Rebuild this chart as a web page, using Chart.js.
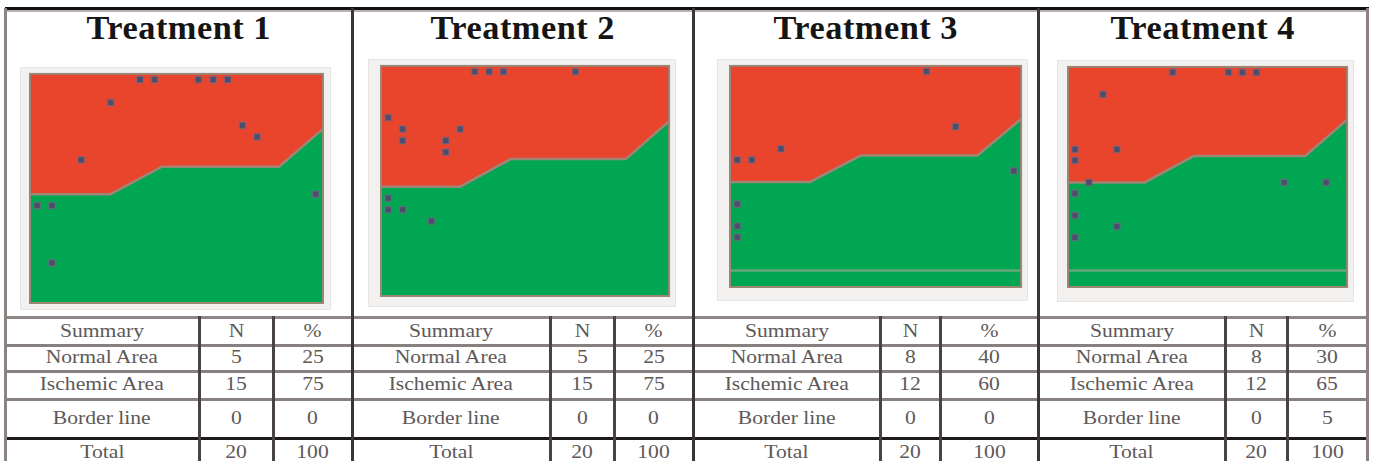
<!DOCTYPE html>
<html>
<head>
<meta charset="utf-8">
<script src="https://cdn.jsdelivr.net/npm/chart.js@4/dist/chart.umd.min.js"></script>
<style>
  body { margin:0; width:1375px; height:461px; overflow:hidden; background:#fff; position:relative; font-family:'Liberation Serif', serif; }
  .ln { position:absolute; }
  .frame { position:absolute; background:#f3f1f0; border:1px solid #e8e4e2; box-sizing:border-box; }
  .title { position:absolute; top:8px; font-weight:bold; font-size:33px; color:#151515; text-align:center; line-height:40px; }
  .title span { display:inline-block; transform:scaleX(1.04); letter-spacing:0.5px; }
  .cell { position:absolute; text-align:center; font-size:18px; color:#5e5959; line-height:20px; }
  .cell span { display:inline-block; transform:scaleX(1.2); }
</style>
</head>
<body>
<script>
// ---- data ----
var treatments = ['Treatment 1', 'Treatment 2', 'Treatment 3', 'Treatment 4'];

// boundary between normal (green) and ischemic (red) zones
var boundaryX = [0.5, 6, 9.5, 17.5, 20.5];
var boundaryY = [10, 10, 12.4, 12.4, 15.7];

// horizontal reference line (only panels 3 and 4)
var refLineY = [null, null, 2, 2];

var pointsX1 = [8, 9, 12, 13, 14, 6, 15, 16, 4, 1, 2, 2, 20];
var pointsY1 = [20, 20, 20, 20, 20, 18, 16, 15, 13, 9, 9, 4, 10];
var pointsX2 = [7, 8, 9, 14, 1, 2, 2, 5, 5, 6, 1, 1, 2, 4];
var pointsY2 = [20, 20, 20, 20, 16, 15, 14, 14, 13, 15, 9, 8, 8, 7];
var pointsX3 = [14, 16, 4, 1, 2, 20, 1, 1, 1];
var pointsY3 = [20, 15, 13, 12, 12, 11, 8, 6, 5];
var pointsX4 = [8, 12, 13, 14, 3, 1, 4, 1, 2, 1, 1, 4, 1, 16, 19];
var pointsY4 = [20, 20, 20, 20, 18, 13, 13, 12, 10, 9, 7, 6, 5, 10, 10];

var summaryRows = ['Summary', 'Normal Area', 'Ischemic Area', 'Border line', 'Total'];
var nNormal   = [5, 5, 8, 8];
var nIschemic = [15, 15, 12, 12];
var nBorder   = [0, 0, 0, 0];
var nTotal    = [20, 20, 20, 20];
var pctNormal   = [25, 25, 40, 30];
var pctIschemic = [75, 75, 60, 65];
var pctBorder   = [0, 0, 0, 5];
var pctTotal    = [100, 100, 100, 100];

// ---- layout ----
var panelEdges = [5, 352, 693, 1038, 1367];
var colLines = [[199, 273], [550, 614], [880, 940], [1225, 1287]];
var rowLines = [316, 344, 370, 398];
var rowCenters = [331, 357, 384, 418, 452];
var frames = [
  { l: 20,   t: 67, w: 311, h: 243, pl: 10, pt: 4, pr: 8, pb: 7 },
  { l: 368,  t: 59, w: 308, h: 248, pl: 13, pt: 4, pr: 4, pb: 11 },
  { l: 717,  t: 59, w: 311, h: 242, pl: 13, pt: 4, pr: 5, pb: 14 },
  { l: 1057, t: 60, w: 297, h: 242, pl: 11, pt: 3, pr: 6, pb: 15 }
];

var RED = '#e9442c', GREEN = '#00a652', EDGE = '#9c8676', DOT = '#4b4d6b';

function line(x, y, w, h, c) {
  var d = document.createElement('div');
  d.className = 'ln';
  d.style.cssText = 'left:' + x + 'px;top:' + y + 'px;width:' + w + 'px;height:' + h + 'px;background:' + c;
  document.body.appendChild(d);
}
function cell(x1, x2, cy, txt) {
  var d = document.createElement('div');
  d.className = 'cell';
  d.style.left = x1 + 'px';
  d.style.width = (x2 - x1) + 'px';
  d.style.top = (cy - 10) + 'px';
  d.innerHTML = '<span>' + txt + '</span>';
  document.body.appendChild(d);
}

// plot outline
var boxPlugin = {
  id: 'box',
  afterDraw: function(chart) {
    var a = chart.chartArea, ctx = chart.ctx;
    ctx.save();
    ctx.strokeStyle = EDGE;
    ctx.lineWidth = 2;
    ctx.strokeRect(a.left, a.top, a.right - a.left, a.bottom - a.top);
    ctx.restore();
  }
};

var allX = [pointsX1, pointsX2, pointsX3, pointsX4];
var allY = [pointsY1, pointsY2, pointsY3, pointsY4];

function toXY(xs, ys) {
  return xs.map(function(x, i) { return { x: x, y: ys[i] }; });
}

function intTicks(s) {
  s.ticks = s.ticks.filter(function(t) { return Number.isInteger(t.value) && t.value >= 1 && t.value <= 20; });
}

treatments.forEach(function(name, p) {
  var f = frames[p];
  var t = document.createElement('div');
  t.className = 'title';
  t.style.left = panelEdges[p] + 'px';
  t.style.width = (panelEdges[p + 1] - panelEdges[p]) + 'px';
  t.innerHTML = '<span>' + name + '</span>';
  document.body.appendChild(t);

  var fr = document.createElement('div');
  fr.className = 'frame';
  fr.style.cssText = 'left:' + f.l + 'px;top:' + f.t + 'px;width:' + f.w + 'px;height:' + f.h + 'px';
  var cv = document.createElement('canvas');
  cv.width = f.w - 2; cv.height = f.h - 2;
  fr.appendChild(cv);
  document.body.appendChild(fr);

  var bound = toXY(boundaryX, boundaryY);
  var datasets = [
    { type: 'scatter', data: toXY(allX[p], allY[p]), pointStyle: 'rect', pointRadius: 4.4,
      backgroundColor: DOT, borderColor: 'rgba(120,105,135,0.55)', borderWidth: 1.5, order: 0 }
  ];
  if (refLineY[p] !== null) {
    datasets.push({ type: 'line', data: [{ x: 0.5, y: refLineY[p] }, { x: 20.5, y: refLineY[p] }],
      borderColor: 'rgba(150,165,140,0.7)', borderWidth: 2.5, pointRadius: 0, fill: false, order: 1 });
  }
  datasets.push({ type: 'line', data: bound, borderColor: EDGE, borderWidth: 2.5, pointRadius: 0,
    fill: 'start', backgroundColor: GREEN, order: 2 });
  datasets.push({ type: 'line', data: bound, borderWidth: 0, pointRadius: 0,
    fill: 'end', backgroundColor: RED, order: 3 });

  new Chart(cv, {
    data: { datasets: datasets },
    plugins: [boxPlugin],
    options: {
      responsive: false,
      animation: false,
      devicePixelRatio: 1,
      layout: { padding: { top: f.pt - 1, right: f.pr - 1, left: 0, bottom: 0 } },
      plugins: { legend: { display: false }, tooltip: { enabled: false } },
      scales: {
        x: {
          type: 'linear', min: 0.5, max: 20.5, z: 1,
          afterBuildTicks: intTicks,
          afterFit: function(s) { s.height = f.pb - 1; },
          ticks: { stepSize: 1, font: { size: 4 }, color: '#c9c1c0', padding: 0, maxRotation: 0, autoSkip: false },
          grid: { color: 'rgba(255,255,255,0.26)', lineWidth: 1, tickLength: 2, tickColor: '#ddd6d4' },
          border: { display: false }
        },
        y: {
          type: 'linear', min: 0.5, max: 20.5, z: 1,
          afterBuildTicks: intTicks,
          afterFit: function(s) { s.width = f.pl - 1; },
          ticks: { stepSize: 1, font: { size: 4 }, color: '#c9c1c0', padding: 1, autoSkip: false },
          grid: { color: 'rgba(255,255,255,0.26)', lineWidth: 1, tickLength: 2, tickColor: '#ddd6d4' },
          border: { display: false }
        }
      }
    }
  });

  // summary table
  var x0 = panelEdges[p], x1 = colLines[p][0], x2 = colLines[p][1], x3 = panelEdges[p + 1];
  var nCol = ['N', nNormal[p], nIschemic[p], nBorder[p], nTotal[p]];
  var pCol = ['%', pctNormal[p], pctIschemic[p], pctBorder[p], pctTotal[p]];
  summaryRows.forEach(function(r, i) {
    cell(x0, x1, rowCenters[i], r);
    cell(x1, x2, rowCenters[i], nCol[i]);
    cell(x2, x3, rowCenters[i], pCol[i]);
  });
});

// table rules
line(5, 7, 1364, 3, '#111');
line(5, 10, 1364, 2, '#b9b1b0');
rowLines.forEach(function(y, i) {
  line(5, y, 1363, 3, i === 0 ? '#8f8686' : '#878080');
});
line(5, 437, 1363, 3, '#1e1a1a');
colLines.forEach(function(c) {
  line(c[0] - 1, 316, 3, 145, '#4a4343');
  line(c[1] - 1, 316, 3, 145, '#4a4343');
});
panelEdges.forEach(function(x, i) {
  var edge = (i === 0 || i === panelEdges.length - 1);
  line(x - 1, 8, 3, 453, edge ? '#8c8282' : '#3b3535');
});
</script>
</body>
</html>
